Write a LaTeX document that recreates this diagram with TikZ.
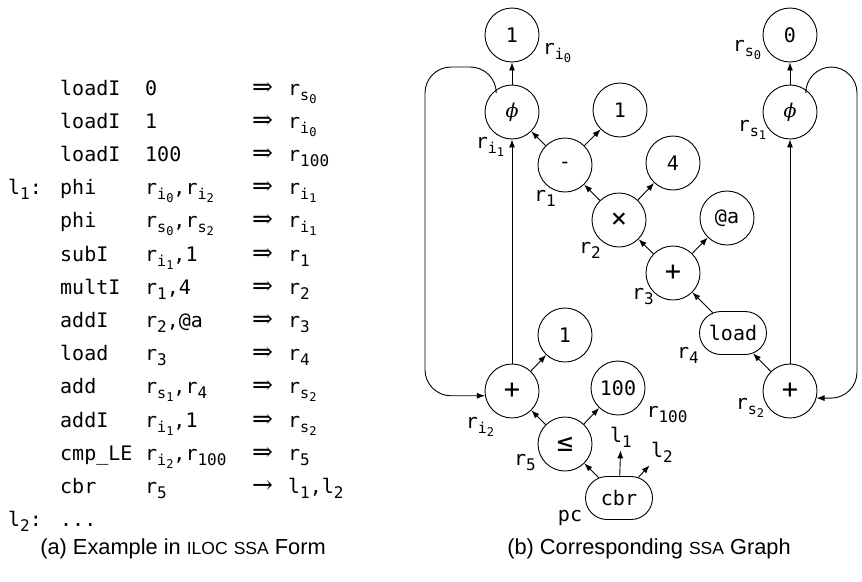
\documentclass[tikz,border=0pt]{standalone}
\usepackage{amsmath, amssymb}
\usepackage{fontspec}
\setmainfont{Liberation Sans}
\setmonofont{DejaVu Sans Mono}
\newfontfamily\glyphfont{DejaVu Serif}
\usepackage{tikz}
\usetikzlibrary{shapes,arrows,arrows.meta,positioning,calc}

\newcommand{\codesize}{\fontsize{20}{33.2}\selectfont\ttfamily}
\newcommand{\rg}[1]{r\raisebox{-5pt}{\fontsize{16}{16}\selectfont #1}}
\newcommand{\rgg}[2]{r\raisebox{-5pt}{\fontsize{15}{15}\selectfont #1\raisebox{-3pt}{\fontsize{12}{12}\selectfont #2}}}
\newcommand{\lb}[1]{l\raisebox{-5pt}{\fontsize{16}{16}\selectfont #1}}
\newcommand{\yields}{{\glyphfont\fontsize{25}{25}\selectfont ⇒}}
\newcommand{\jumps}{{\glyphfont\fontsize{25}{25}\selectfont →}}
\newcommand{\phisym}{{\glyphfont\itshape\fontsize{19}{19}\selectfont ϕ}}
\newcommand{\bigop}[1]{{\fontsize{27}{27}\selectfont #1}}

\begin{document}
\begin{tikzpicture}[
    x=1pt, y=-1pt,
    opnode/.style={circle, draw, line width=0.9pt, minimum size=54pt, inner sep=0pt, font=\codesize},
    pillnode/.style={rounded rectangle, draw, line width=0.9pt, minimum width=67pt, minimum height=43pt, inner sep=0pt, font=\codesize},
    reglabel/.style={inner sep=1pt, font=\codesize},
    flow/.style={-{Latex[length=8pt, width=6pt]}, line width=0.9pt},
    caption/.style={font=\fontsize{21.8}{25}\selectfont}
]
\useasboundingbox (0,0) rectangle (862,581);

% ILOC listing
\node[anchor=base west, inner sep=0pt, font=\codesize] (listing) at (8,95) {%
\begin{tabular}[t]{@{}p{52pt}@{}p{85pt}@{}p{107pt}@{}p{36pt}@{}l@{}}
 & loadI & 0 & \yields & \rgg{s}{0} \\
 & loadI & 1 & \yields & \rgg{i}{0} \\
 & loadI & 100 & \yields & \rg{100} \\
\lb{1}: & phi & \rgg{i}{0},\rgg{i}{2} & \yields & \rgg{i}{1} \\
 & phi & \rgg{s}{0},\rgg{s}{2} & \yields & \rgg{i}{1} \\
 & subI & \rgg{i}{1},1 & \yields & \rg{1} \\
 & multI & \rg{1},4 & \yields & \rg{2} \\
 & addI & \rg{2},@a & \yields & \rg{3} \\
 & load & \rg{3} & \yields & \rg{4} \\
 & add & \rgg{s}{1},\rg{4} & \yields & \rgg{s}{2} \\
 & addI & \rgg{i}{1},1 & \yields & \rgg{s}{2} \\
 & cmp\_LE & \rgg{i}{2},\rg{100} & \yields & \rg{5} \\
 & cbr & \rg{5} & \jumps & \lb{1},\lb{2} \\
\lb{2}: & ... & & &
\end{tabular}};

% SSA graph: induction variable i
\node[opnode] (oneA) at (512,35) {1};
\node[opnode] (phiL) at (512,112) {\phisym};
\node[opnode] (plusI) at (512,391) {\bigop{+}};
\node[opnode] (oneC) at (565,335) {1};

% SSA graph: address chain
\node[opnode] (minus) at (565,165) {-};
\node[opnode] (oneB) at (620,110) {1};
\node[opnode] (times) at (619,220) {\bigop{×}};
\node[opnode] (four) at (673,163) {4};
\node[opnode] (plusA) at (673,273) {\bigop{+}};
\node[opnode] (atA) at (727,218) {@a};
\node[pillnode] (load) at (733,333) {load};

% SSA graph: sum s
\node[opnode] (zero) at (790,35) {0};
\node[opnode] (phiR) at (790,112) {\phisym};
\node[opnode] (plusS) at (790,391) {\bigop{+}};

% SSA graph: compare and branch
\node[opnode] (hundred) at (618,388) {100};
\node[opnode] (le) at (565,444) {\bigop{≤}};
\node[pillnode] (cbr) at (619,498) {cbr};

% register names
\node[reglabel] (lri0) at (557,53) {\rgg{i}{0}};
\node[reglabel] (lri1) at (490,147) {\rgg{i}{1}};
\node[reglabel] (lr1) at (545,198) {\rg{1}};
\node[reglabel] (lr2) at (590,250) {\rg{2}};
\node[reglabel] (lr3) at (643,297) {\rg{3}};
\node[reglabel] (lr4) at (688,355) {\rg{4}};
\node[reglabel] (lrs0) at (747,50) {\rgg{s}{0}};
\node[reglabel] (lrs1) at (752,130) {\rgg{s}{1}};
\node[reglabel] (lrs2) at (750,408) {\rgg{s}{2}};
\node[reglabel] (lri2) at (480,427) {\rgg{i}{2}};
\node[reglabel] (lr100) at (667,415) {\rg{100}};
\node[reglabel] (lr5) at (525,463) {\rg{5}};
\node[reglabel] (lpc) at (570,518) {pc};
\node[reglabel, inner sep=3pt] (ll1) at (621,437) {\lb{1}};
\node[reglabel, inner sep=3pt] (ll2) at (662,452) {\lb{2}};

% edges
\draw[flow] (phiL) -- (oneA);
\draw[flow] (minus) -- (phiL);
\draw[flow] (minus) -- (oneB);
\draw[flow] (times) -- (minus);
\draw[flow] (times) -- (four);
\draw[flow] (plusA) -- (times);
\draw[flow] (plusA) -- (atA);
\draw[flow] (load) -- (plusA);
\draw[flow] (plusS) -- (load);
\draw[flow] (plusS) -- (phiR);
\draw[flow] (phiR) -- (zero);
\draw[flow] (plusI) -- (phiL);
\draw[flow] (plusI) -- (oneC);
\draw[flow] (le) -- (plusI);
\draw[flow] (le) -- (hundred);
\draw[flow] (cbr) -- (le);
\draw[flow] (cbr) -- (ll1);
\draw[flow] (cbr) -- (ll2);

% back edges of the two phi nodes
\coordinate (loopL) at (425,67);
\coordinate (loopR) at (857,67);
\draw[flow, rounded corners=26pt] (phiL.125) |- (loopL) |- (plusI.190);
\draw[flow, rounded corners=26pt] (phiR.55) |- (loopR) |- (plusS.-15);

% captions
\node[caption] (capA) at (183,549) {(a) Example in {\fontsize{17.5}{20}\selectfont ILOC} {\fontsize{17.5}{20}\selectfont SSA} Form};
\node[caption] (capB) at (649,549) {(b) Corresponding {\fontsize{17.5}{20}\selectfont SSA} Graph};

\end{tikzpicture}
\end{document}
